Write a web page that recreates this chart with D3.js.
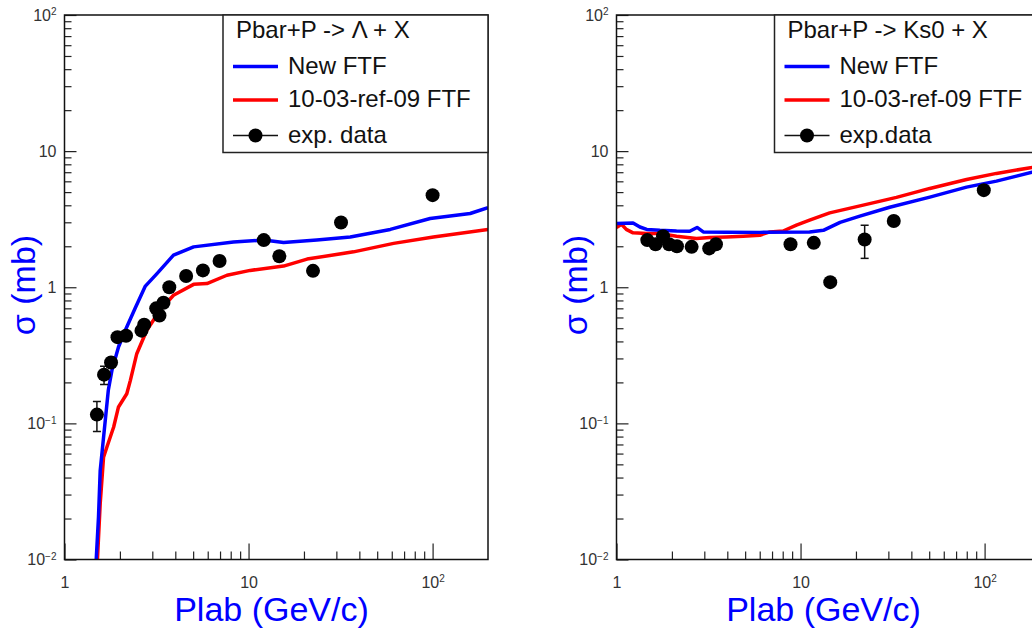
<!DOCTYPE html>
<html>
<head>
<meta charset="utf-8">
<script src="https://cdn.jsdelivr.net/npm/d3@7"></script>
<style>
  body { margin: 0; background: #fff; }
  svg { display: block; }
  text { font-family: "Liberation Sans", Arial, sans-serif; }
</style>
</head>
<body>
<svg width="1032" height="631"></svg>
<script>
// ---- Data: Pbar+P -> Lambda + X (left panel) ----
const lamExpP   = [1.50, 1.64, 1.79, 1.94, 2.16, 2.62, 2.71, 3.15, 3.28, 3.45, 3.71, 4.58, 5.65, 6.96, 12.1, 14.7, 22.4, 31.8, 100];
const lamExpSig = [0.116, 0.228, 0.28, 0.43, 0.44, 0.48, 0.53, 0.70, 0.62, 0.77, 1.0, 1.21, 1.33, 1.56, 2.22, 1.69, 1.32, 2.99, 4.75];
const lamExpErr = [0.029, 0.035, 0, 0, 0, 0, 0, 0, 0, 0, 0, 0, 0, 0, 0, 0, 0, 0, 0];

const lamNewP   = [1.487, 1.53, 1.563, 1.63, 1.73, 1.81, 1.965, 2.14, 2.42, 2.75, 3.18, 3.91, 5.03, 8.28, 12.1, 15.5, 23.5, 35.7, 58.9, 97, 160, 200];
const lamNewSig = [0.01, 0.0205, 0.045, 0.079, 0.175, 0.245, 0.364, 0.483, 0.70, 1.02, 1.26, 1.72, 1.98, 2.15, 2.22, 2.13, 2.22, 2.34, 2.66, 3.2, 3.48, 3.85];

const lamOldP   = [1.51, 1.563, 1.63, 1.70, 1.85, 1.965, 2.18, 2.28, 2.47, 2.80, 3.31, 3.91, 5.03, 5.94, 7.63, 10.2, 15.5, 20.8, 37.2, 61.4, 101, 200];
const lamOldSig = [0.01, 0.0257, 0.0565, 0.067, 0.094, 0.132, 0.165, 0.207, 0.325, 0.483, 0.68, 0.873, 1.05, 1.065, 1.225, 1.33, 1.43, 1.61, 1.82, 2.10, 2.34, 2.66];

// ---- Data: Pbar+P -> Ks0 + X (right panel) ----
const ksExpP   = [1.47, 1.63, 1.79, 1.93, 2.13, 2.56, 3.19, 3.47, 8.82, 11.8, 14.5, 22.3, 32.1, 99];
const ksExpSig = [2.22, 2.07, 2.37, 2.07, 2.0, 1.98, 1.93, 2.07, 2.07, 2.12, 1.09, 2.24, 3.07, 5.17];
const ksExpErr = [0, 0, 0, 0, 0, 0, 0, 0, 0, 0, 0, 0.61, 0, 0];

const ksNewP   = [1.0, 1.23, 1.34, 1.46, 1.72, 2.12, 2.50, 2.74, 2.96, 3.96, 6.01, 11.2, 13.3, 16.4, 21.0, 30.5, 50.4, 79.8, 116, 181, 200];
const ksNewSig = [2.94, 2.97, 2.77, 2.66, 2.62, 2.59, 2.58, 2.75, 2.55, 2.54, 2.53, 2.55, 2.62, 3.0, 3.33, 3.87, 4.59, 5.44, 6.02, 7.0, 7.25];

const ksOldP   = [1.0, 1.065, 1.13, 1.23, 1.46, 1.72, 2.12, 2.72, 3.21, 3.96, 4.88, 6.01, 6.81, 8.04, 9.5, 11.2, 14.4, 21.9, 33.2, 50.4, 79.8, 116, 181, 200];
const ksOldSig = [2.75, 2.90, 2.66, 2.51, 2.48, 2.48, 2.37, 2.28, 2.32, 2.34, 2.37, 2.41, 2.55, 2.59, 2.86, 3.11, 3.52, 4.01, 4.57, 5.32, 6.19, 6.86, 7.59, 7.9];

// ---- Axis ticks and labels ----
const xDomain = [1, 200];
const yDomain = [0.01, 100];
const xMajor = [1, 10, 100];
const xMajorLabels = ["1", "10", "10^2"];
const yMajor = [0.01, 0.1, 1, 10, 100];
const yMajorLabels = ["10^-2", "10^-1", "1", "10", "10^2"];

const lamTitle = "Pbar+P -> \u039b + X";
const ksTitle = "Pbar+P -> Ks0 + X";
const legendNames = ["New FTF", "10-03-ref-09 FTF"];
const lamExpName = "exp. data";
const ksExpName = "exp.data";

const blue = "#0000ff";
const red = "#ff0000";

const svg = d3.select("svg");
svg.append("rect").attr("width", 1032).attr("height", 631).attr("fill", "#fff");

// minor ticks at 2..9 of each decade
function minorTicks(lo, hi) {
    const out = [];
    for (let e = Math.floor(Math.log10(lo)); e < Math.ceil(Math.log10(hi)); e++) {
        for (let k = 2; k <= 9; k++) {
            const v = k * Math.pow(10, e);
            if (v > lo && v < hi) out.push(v);
        }
    }
    return out;
}

// write "10^2" as 10 with a superscript
function setPowerLabel(sel, label, supSize) {
    sel.text(null);
    const parts = label.split("^");
    sel.append("tspan").text(parts[0]);
    if (parts[1]) {
        sel.append("tspan")
           .attr("dy", "-0.55em")
           .attr("font-size", supSize)
           .text(parts[1].replace("-", "\u2212"));
    }
}

function drawPanel(cfg) {
    const left = cfg.left, right = cfg.left + 423.5;
    const top = 15, bottom = 559.5;

    const x = d3.scaleLog().domain(xDomain).range([left, right]);
    const y = d3.scaleLog().domain(yDomain).range([bottom, top]);

    const clipId = "clip-" + cfg.id;
    svg.append("clipPath").attr("id", clipId)
       .append("rect").attr("x", left).attr("y", top)
       .attr("width", right - left).attr("height", bottom - top);

    const g = svg.append("g");

    // Y axis: minor then major ticks pointing inward
    g.append("g")
     .attr("transform", `translate(${left},0)`)
     .call(d3.axisLeft(y).tickValues(minorTicks(yDomain[0], yDomain[1])).tickSize(-7).tickFormat(""))
     .call(a => a.select(".domain").remove())
     .selectAll("line").attr("stroke", "#222").attr("stroke-width", 1.2);

    const yAx = g.append("g")
     .attr("transform", `translate(${left},0)`)
     .call(d3.axisLeft(y).tickValues(yMajor).tickSize(-12).tickPadding(8).tickFormat((d, i) => yMajorLabels[i]))
     .call(a => a.select(".domain").remove());
    yAx.selectAll("line").attr("stroke", "#222").attr("stroke-width", 1.2);
    yAx.selectAll("text")
       .attr("font-family", "'Liberation Sans', Arial, sans-serif")
       .attr("font-size", 16).attr("fill", "#333")
       .each(function (d, i) { setPowerLabel(d3.select(this), yMajorLabels[i], 10); });

    // X axis
    g.append("g")
     .attr("transform", `translate(0,${bottom})`)
     .call(d3.axisBottom(x).tickValues(minorTicks(xDomain[0], xDomain[1])).tickSize(-8).tickFormat(""))
     .call(a => a.select(".domain").remove())
     .selectAll("line").attr("stroke", "#222").attr("stroke-width", 1.2);

    const xAx = g.append("g")
     .attr("transform", `translate(0,${bottom})`)
     .call(d3.axisBottom(x).tickValues(xMajor).tickSize(-16).tickPadding(17).tickFormat((d, i) => xMajorLabels[i]))
     .call(a => a.select(".domain").remove());
    xAx.selectAll("line").attr("stroke", "#222").attr("stroke-width", 1.2);
    xAx.selectAll("text")
       .attr("font-family", "'Liberation Sans', Arial, sans-serif")
       .attr("font-size", 16).attr("fill", "#333")
       .each(function (d, i) { setPowerLabel(d3.select(this), xMajorLabels[i], 10); });

    // Curves
    const line = d3.line().x(d => x(d[0])).y(d => y(d[1]));
    const curves = g.append("g").attr("clip-path", `url(#${clipId})`);
    curves.append("path")
          .datum(d3.zip(cfg.oldP, cfg.oldSig))
          .attr("d", line).attr("fill", "none")
          .attr("stroke", red).attr("stroke-width", 3.5).attr("stroke-linejoin", "round");
    curves.append("path")
          .datum(d3.zip(cfg.newP, cfg.newSig))
          .attr("d", line).attr("fill", "none")
          .attr("stroke", blue).attr("stroke-width", 3.5).attr("stroke-linejoin", "round");

    // Experimental points with error bars
    const pts = cfg.expP.map((p, i) => ({ p: p, s: cfg.expSig[i], e: cfg.expErr[i] }));
    const eb = curves.selectAll(".err").data(pts.filter(d => d.e > 0)).join("g").attr("class", "err");
    eb.append("line")
      .attr("x1", d => x(d.p)).attr("x2", d => x(d.p))
      .attr("y1", d => y(d.s + d.e)).attr("y2", d => y(d.s - d.e))
      .attr("stroke", "#111").attr("stroke-width", 1.5);
    eb.selectAll(".cap").data(d => [[d.p, d.s + d.e], [d.p, d.s - d.e]]).join("line")
      .attr("class", "cap")
      .attr("x1", d => x(d[0]) - 4).attr("x2", d => x(d[0]) + 4)
      .attr("y1", d => y(d[1])).attr("y2", d => y(d[1]))
      .attr("stroke", "#111").attr("stroke-width", 1.5);
    curves.selectAll("circle").data(pts).join("circle")
      .attr("cx", d => x(d.p)).attr("cy", d => y(d.s))
      .attr("r", 7).attr("fill", "#000");

    // Frame
    g.append("rect")
     .attr("x", left).attr("y", top)
     .attr("width", right - left).attr("height", bottom - top)
     .attr("fill", "none").attr("stroke", "#111").attr("stroke-width", 1.5);

    // Legend
    const lx = cfg.legendLeft, lyBottom = 152.5;
    const leg = g.append("g");
    leg.append("rect")
       .attr("x", lx).attr("y", top)
       .attr("width", right - lx).attr("height", lyBottom - top)
       .attr("fill", "#fff").attr("stroke", "#222").attr("stroke-width", 1.5);
    leg.append("text")
       .attr("x", lx + 13).attr("y", 38)
       .attr("font-size", 24).attr("fill", "#111")
       .text(cfg.title);
    const rows = [
        { name: legendNames[0], color: blue, y: 66.5 },
        { name: legendNames[1], color: red, y: 100 },
        { name: cfg.expName, color: "#111", y: 135.5, dot: true }
    ];
    rows.forEach(r => {
        leg.append("line")
           .attr("x1", lx + 10).attr("x2", lx + 55)
           .attr("y1", r.y).attr("y2", r.y)
           .attr("stroke", r.color).attr("stroke-width", r.dot ? 1.5 : 3.5);
        if (r.dot) {
            leg.append("circle").attr("cx", lx + 32.5).attr("cy", r.y).attr("r", 7).attr("fill", "#000");
        }
        leg.append("text")
           .attr("x", lx + 65).attr("y", r.y + 7)
           .attr("font-size", 24).attr("fill", "#111")
           .text(r.name);
    });

    // Axis titles
    g.append("text")
     .attr("transform", `translate(${left - 30},285) rotate(-90)`)
     .attr("text-anchor", "middle")
     .attr("font-size", 34).attr("fill", blue)
     .text("\u03c3 (mb)");
    g.append("text")
     .attr("x", left + 207).attr("y", 621)
     .attr("text-anchor", "middle")
     .attr("font-size", 34).attr("fill", blue)
     .text("Plab (GeV/c)");
}

drawPanel({
    id: "lam", left: 64.5, legendLeft: 223,
    title: lamTitle, expName: lamExpName,
    expP: lamExpP, expSig: lamExpSig, expErr: lamExpErr,
    newP: lamNewP, newSig: lamNewSig,
    oldP: lamOldP, oldSig: lamOldSig
});

drawPanel({
    id: "ks", left: 616.5, legendLeft: 774.5,
    title: ksTitle, expName: ksExpName,
    expP: ksExpP, expSig: ksExpSig, expErr: ksExpErr,
    newP: ksNewP, newSig: ksNewSig,
    oldP: ksOldP, oldSig: ksOldSig
});
</script>
</body>
</html>
